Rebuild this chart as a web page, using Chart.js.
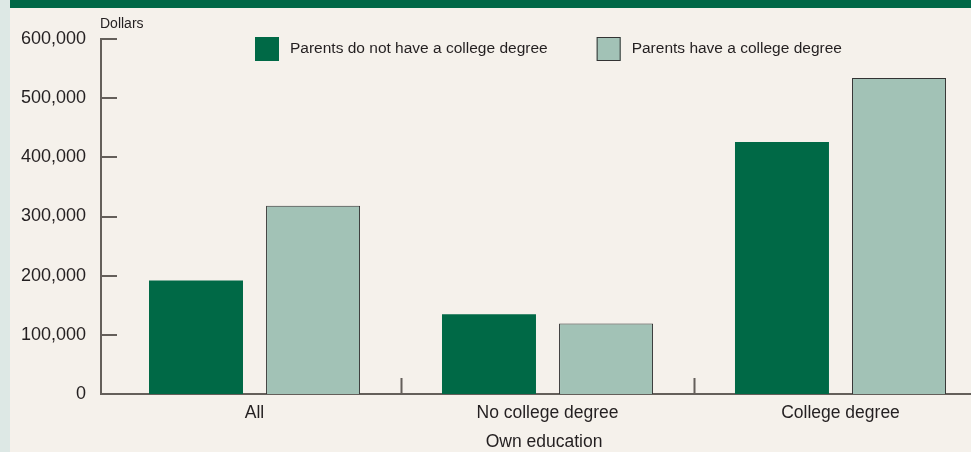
<!DOCTYPE html>
<html>
<head>
<meta charset="utf-8">
<script src="https://cdn.jsdelivr.net/npm/chart.js@4/dist/chart.umd.min.js"></script>
<style>
    html, body { margin: 0; padding: 0; width: 971px; height: 452px; overflow: hidden; background: #f5f1eb; }
    #band { position: absolute; left: 10px; top: 0; width: 961px; height: 8px; background: #006847; }
    #strip { position: absolute; left: 0; top: 0; width: 10px; height: 452px; background: #dde8e5; }
    #chart { position: absolute; left: 0; top: 0; }
</style>
</head>
<body>
<div id="band"></div>
<div id="strip"></div>
<canvas id="chart" width="1000" height="452"></canvas>
<script>
const categories = ['All', 'No college degree', 'College degree']
const seriesNames = ['Parents do not have a college degree', 'Parents have a college degree']
const noDegreeParents = [192000, 135000, 426000]
const degreeParents = [318000, 119000, 534000]
const yTicks = [0, 100000, 200000, 300000, 400000, 500000, 600000]
const axisTitle = 'Own education'
const unitLabel = 'Dollars'

const axisColor = '#645f5a'
const textColor = '#231f20'
const font = "'Liberation Sans', Arial, sans-serif"

// inward tick marks, category separators, unit label and the legend row
const axisExtras = {
    id: 'axisExtras',
    afterDraw(chart) {
        const ctx = chart.ctx
        const x = chart.scales.x
        const y = chart.scales.y
        const area = chart.chartArea
        ctx.save()
        ctx.strokeStyle = axisColor
        ctx.lineWidth = 2
        ctx.beginPath()
        y.ticks.forEach(t => {
            const py = Math.round(y.getPixelForValue(t.value))
            ctx.moveTo(area.left, py)
            ctx.lineTo(area.left + 16, py)
        })
        for (let i = 0; i < categories.length - 1; i++) {
            const px = Math.round(x.getPixelForValue(i + 0.5)) + 0.5
            ctx.moveTo(px, area.bottom)
            ctx.lineTo(px, area.bottom - 16)
        }
        ctx.stroke()

        ctx.fillStyle = textColor
        ctx.font = '14px ' + font
        ctx.textAlign = 'left'
        ctx.textBaseline = 'middle'
        ctx.fillText(unitLabel, area.left - 1, 24)

        // legend
        ctx.font = '15.5px ' + font
        const box = 24, textGap = 11, itemGap = 49
        const sets = chart.data.datasets
        const widths = sets.map(d => ctx.measureText(d.label).width)
        let total = 0
        widths.forEach((w, i) => { total += box + textGap + w + (i ? itemGap : 0) })
        let lx = Math.round((area.left + area.right) / 2 + 4 - total / 2)
        const ly = 37
        sets.forEach((d, i) => {
            ctx.fillStyle = d.backgroundColor
            ctx.fillRect(lx, ly, box, box)
            if (d.borderWidth) {
                ctx.strokeStyle = d.borderColor
                ctx.lineWidth = d.borderWidth
                ctx.strokeRect(lx + 0.5, ly + 0.5, box - 1, box - 1)
            }
            ctx.fillStyle = textColor
            ctx.fillText(d.label, lx + box + textGap, ly + box / 2)
            lx += box + textGap + widths[i] + itemGap
        })
        ctx.restore()
    }
}

new Chart(document.getElementById('chart').getContext('2d'), {
    type: 'bar',
    data: {
        datasets: [
            {
                label: seriesNames[0],
                data: noDegreeParents.map((v, i) => ({ x: i, y: v })),
                backgroundColor: '#006946',
                borderWidth: 0
            },
            {
                label: seriesNames[1],
                data: degreeParents.map((v, i) => ({ x: i, y: v })),
                backgroundColor: '#a2c2b6',
                borderColor: '#333333',
                borderWidth: 1
            }
        ]
    },
    options: {
        responsive: false,
        animation: false,
        categoryPercentage: 0.799,
        barPercentage: 0.803,
        layout: { padding: { top: 39, left: 0, right: 13, bottom: 0 } },
        plugins: {
            tooltip: { enabled: false },
            legend: { display: false }
        },
        scales: {
            x: {
                type: 'linear',
                offset: false,
                min: -0.524,
                max: 2.5,
                grid: { display: false, drawTicks: false, offset: false },
                border: { display: true, color: axisColor, width: 2 },
                afterBuildTicks: scale => {
                    scale.ticks = categories.map((c, i) => ({ value: i }))
                },
                afterFit: scale => { scale.height = 58 },
                ticks: {
                    autoSkip: false,
                    maxRotation: 0,
                    padding: 9,
                    color: textColor,
                    font: { family: font, size: 17.5 },
                    callback: v => categories[v]
                },
                title: {
                    display: true,
                    text: axisTitle,
                    color: textColor,
                    font: { family: font, size: 17.5 },
                    padding: { top: 2, bottom: -1 }
                }
            },
            y: {
                min: 0,
                max: 600000,
                grid: { display: false, drawTicks: false },
                border: { display: true, color: axisColor, width: 2 },
                afterBuildTicks: scale => {
                    scale.ticks = yTicks.map(v => ({ value: v }))
                },
                afterFit: scale => { scale.width = 101 },
                ticks: {
                    padding: 15,
                    color: textColor,
                    font: { family: font, size: 18 },
                    callback: v => v.toLocaleString('en-US')
                }
            }
        }
    },
    plugins: [axisExtras]
})
</script>
</body>
</html>
